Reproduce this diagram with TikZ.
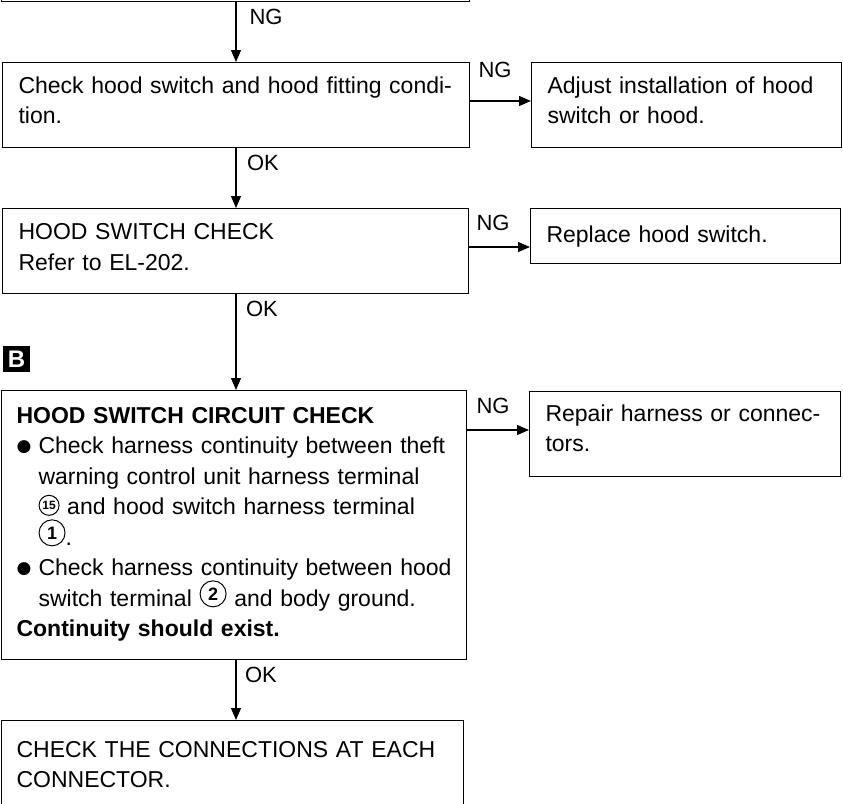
\documentclass[tikz,border=0pt]{standalone}
\usepackage{fontspec}
\setmainfont{Liberation Sans}
\newfontfamily\djv{DejaVu Sans}
\usetikzlibrary{arrows.meta}
\tikzset{
 box/.style={draw, line width=1.1pt, anchor=north west, align=left, inner xsep=16pt, inner ysep=0pt, font=\fontsize{23}{30.5}\selectfont},
 lbl/.style={font=\fontsize{22}{22}\selectfont, inner sep=0pt},
 arr/.style={line width=1.1pt, -{Triangle[length=12pt,width=10pt]}},
 badge/.style={fill=black, text=white, inner sep=0pt, minimum width=27pt, minimum height=26pt, font=\bfseries\fontsize{24}{24}\selectfont},
}
\newcommand\cnum[3]{\smash{\tikz[baseline={([yshift=1pt]cn.south)}]\node[circle,draw,line width=1pt,inner sep=0pt,minimum width=#1,minimum height=#1,font=\bfseries\fontsize{#2}{#2}\selectfont](cn){#3};}}
\newcommand\bul{\makebox[22pt][l]{\raisebox{2.5pt}{\djv\fontsize{17}{17}\selectfont ●}}}
\newcommand\ind{\hspace*{22pt}}
\newcommand\lift[1]{\rule[-#1]{0pt}{0pt}}
\begin{document}
\begin{tikzpicture}[x=1pt,y=-1pt]
\clip (0,0) rectangle (843,803);
\coordinate (spine) at (236,0);
\coordinate (y1) at (0,101);
\coordinate (y3) at (0,247);
\coordinate (y5) at (0,430);
\node[box, minimum width=468pt, minimum height=72pt] (top) at (1,-71) {};
\node[box, minimum width=467pt, minimum height=85pt, text width=435pt] (b1) at (2,62) {Check hood switch and hood fitting condi-\\tion.\lift{10pt}};
\node[box, minimum width=310pt, minimum height=85pt, text width=278pt] (b2) at (531,62) {Adjust installation of hood\\switch or hood.\lift{10pt}};
\node[box, minimum width=466pt, minimum height=85pt, text width=434pt] (b3) at (2,208) {HOOD SWITCH CHECK\\Refer to EL-202.\lift{8pt}};
\node[box, minimum width=310pt, minimum height=55pt, text width=278pt] (b4) at (530,208) {Replace hood switch.};
\node[box, inner xsep=15pt, minimum width=465pt, minimum height=269pt, text width=435pt] (b5) at (1,390) {\textbf{HOOD SWITCH CIRCUIT CHECK}\\
\bul Check harness continuity between theft\\
\ind warning control unit harness terminal\\
\ind \cnum{20pt}{12}{15} and hood switch harness terminal\\
\ind \cnum{26pt}{18}{1}.\\
\bul Check harness continuity between hood\\
\ind switch terminal \cnum{26pt}{18}{2} and body ground.\\
\textbf{Continuity should exist.}\lift{6pt}};
\node[box, minimum width=311pt, minimum height=85pt, text width=279pt] (b6) at (529,391) {Repair harness or connec-\\tors.\lift{12pt}};
\node[box, inner xsep=15pt, minimum width=462pt, minimum height=88pt, text width=432pt] (b7) at (1,720) {CHECK THE CONNECTIONS AT EACH\\CONNECTOR.};
\node[badge] (bb) at (16.5,359) {B};
\draw[arr] (top.south -| spine) -- (b1.north -| spine);
\node[lbl] (l0) at (266,17) {NG};
\draw[arr] (b1.east |- y1) -- (b2.west |- y1);
\node[lbl] (l1) at (495,70) {NG};
\draw[arr] (b1.south -| spine) -- (b3.north -| spine);
\node[lbl] (l2) at (263,163) {OK};
\draw[arr] (b3.east |- y3) -- (b4.west |- y3);
\node[lbl] (l3) at (493,223) {NG};
\draw[arr] (b3.south -| spine) -- (b5.north -| spine);
\node[lbl] (l4) at (262,309) {OK};
\draw[arr] (b5.east |- y5) -- (b6.west |- y5);
\node[lbl] (l5) at (493,406) {NG};
\draw[arr] (b5.south -| spine) -- (b7.north -| spine);
\node[lbl] (l6) at (261,675) {OK};
\end{tikzpicture}
\end{document}
